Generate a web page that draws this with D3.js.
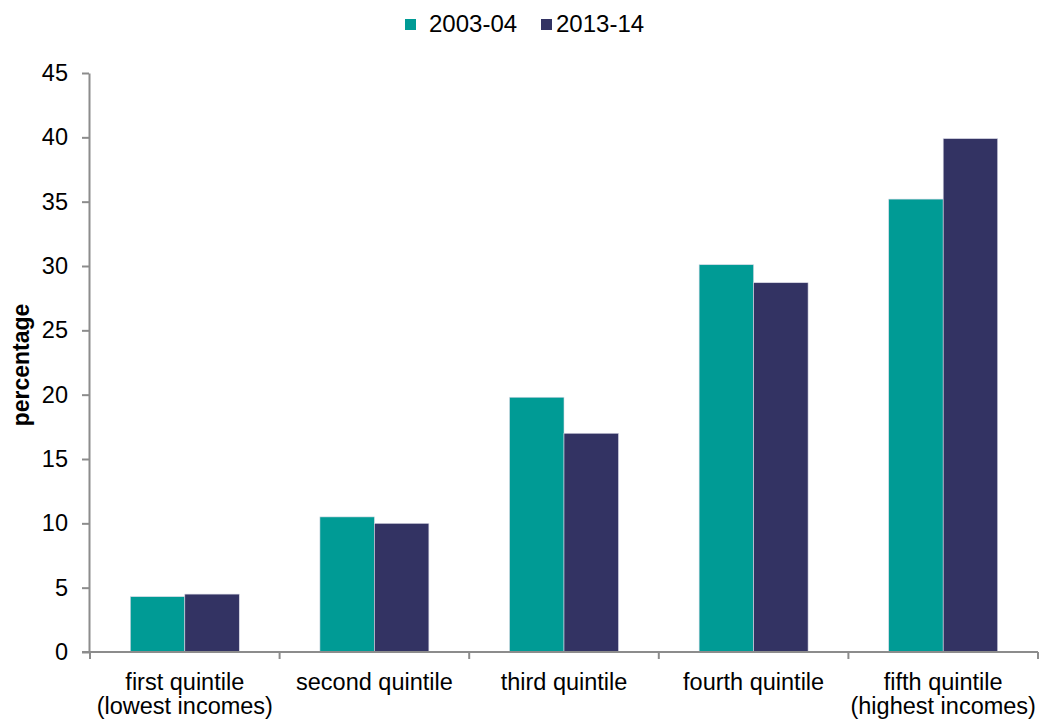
<!DOCTYPE html>
<html>
<head>
<meta charset="utf-8">
<script src="https://cdn.jsdelivr.net/npm/d3@7"></script>
<style>
  body { margin: 0; background: #fff; }
  svg { display: block; font-family: "Liberation Sans", Arial, sans-serif; }
</style>
</head>
<body>
<svg id="chart" width="1040" height="722"></svg>
<script>
// Income quintiles and share (percentage) in each period
const categories = [
  ["first quintile", "(lowest incomes)"],
  ["second quintile"],
  ["third quintile"],
  ["fourth quintile"],
  ["fifth quintile", "(highest incomes)"]
];
const seriesNames = ["2003-04", "2013-14"];
const values2003 = [4.3, 10.5, 19.8, 30.1, 35.2];
const values2013 = [4.5, 10.0, 17.0, 28.7, 39.9];
const yTicks = [0, 5, 10, 15, 20, 25, 30, 35, 40, 45];
const colors = ["#009B95", "#333363"];

const svg = d3.select("#chart");
const margin = { left: 90, right: 2, top: 73, bottom: 70 };
const W = 1040, H = 722;
const plotBottom = H - margin.bottom;
const fontSize = "23.5px";

const x = d3.scaleBand()
  .domain(d3.range(categories.length))
  .range([margin.left, W - margin.right])
  .paddingInner(0).paddingOuter(0);

const x1 = d3.scaleBand()
  .domain(seriesNames)
  .range([0, x.bandwidth()])
  .paddingInner(0)
  .paddingOuter(0.74);

const y = d3.scaleLinear().domain([0, 45]).range([plotBottom, margin.top]);

const axisColor = "#8c8c8c";

// Bars
const data = categories.map((c, i) => ({ i, vals: [values2003[i], values2013[i]] }));
const groups = svg.append("g").selectAll("g").data(data).join("g")
  .attr("transform", d => `translate(${x(d.i)},0)`);
groups.selectAll("rect")
  .data(d => d.vals.map((v, k) => ({ v, k })))
  .join("rect")
  .attr("x", d => x1(seriesNames[d.k]))
  .attr("width", x1.bandwidth())
  .attr("y", d => y(d.v))
  .attr("height", d => y(0) - y(d.v))
  .attr("fill", d => colors[d.k])
  .attr("stroke", "#d9d9e6")
  .attr("stroke-width", 0.6);

// Y axis
const yAxis = svg.append("g")
  .attr("transform", `translate(${margin.left - 1},0)`)
  .call(d3.axisLeft(y).tickValues(yTicks).tickSize(7).tickPadding(14).tickSizeOuter(0));
yAxis.select(".domain").attr("stroke", axisColor).attr("stroke-width", 2);
yAxis.selectAll(".tick line").attr("stroke", axisColor).attr("stroke-width", 2);
yAxis.selectAll(".tick text")
  .attr("fill", "#000")
  .style("font-size", fontSize);

// X axis with ticks at category boundaries
const xAxisG = svg.append("g").attr("transform", `translate(0,${plotBottom})`);
xAxisG.append("line")
  .attr("x1", margin.left - 8).attr("x2", W - margin.right)
  .attr("stroke", axisColor).attr("stroke-width", 2);
const boundaries = d3.range(categories.length + 1).map(i =>
  i < categories.length ? x(i) : x(i - 1) + x.bandwidth());
xAxisG.selectAll(".bt").data(boundaries).join("line")
  .attr("class", "bt")
  .attr("x1", d => d).attr("x2", d => d)
  .attr("y1", 0).attr("y2", 7)
  .attr("stroke", axisColor).attr("stroke-width", 2);

// Category labels
const lab = svg.append("g").selectAll("text").data(categories).join("text")
  .attr("text-anchor", "middle")
  .attr("x", (d, i) => x(i) + x.bandwidth() / 2)
  .attr("y", 690)
  .style("font-size", fontSize)
  .attr("fill", "#000");
lab.selectAll("tspan").data(d => d).join("tspan")
  .attr("x", function () { return d3.select(this.parentNode).attr("x"); })
  .attr("dy", (d, j) => j === 0 ? 0 : 24)
  .text(d => d);

// Y axis title
svg.append("text")
  .attr("transform", `translate(29,365) rotate(-90)`)
  .attr("text-anchor", "middle")
  .style("font-size", "23px")
  .style("font-weight", "bold")
  .text("percentage");

// Legend
const legendItems = [
  { name: seriesNames[0], color: colors[0], sx: 405, tx: 429 },
  { name: seriesNames[1], color: colors[1], sx: 541, tx: 556 }
];
const lg = svg.append("g");
lg.selectAll("rect").data(legendItems).join("rect")
  .attr("x", d => d.sx).attr("y", 19)
  .attr("width", 11).attr("height", 11)
  .attr("fill", d => d.color);
lg.selectAll("text").data(legendItems).join("text")
  .attr("x", d => d.tx).attr("y", 32)
  .style("font-size", "24px")
  .text(d => d.name);
</script>
</body>
</html>
